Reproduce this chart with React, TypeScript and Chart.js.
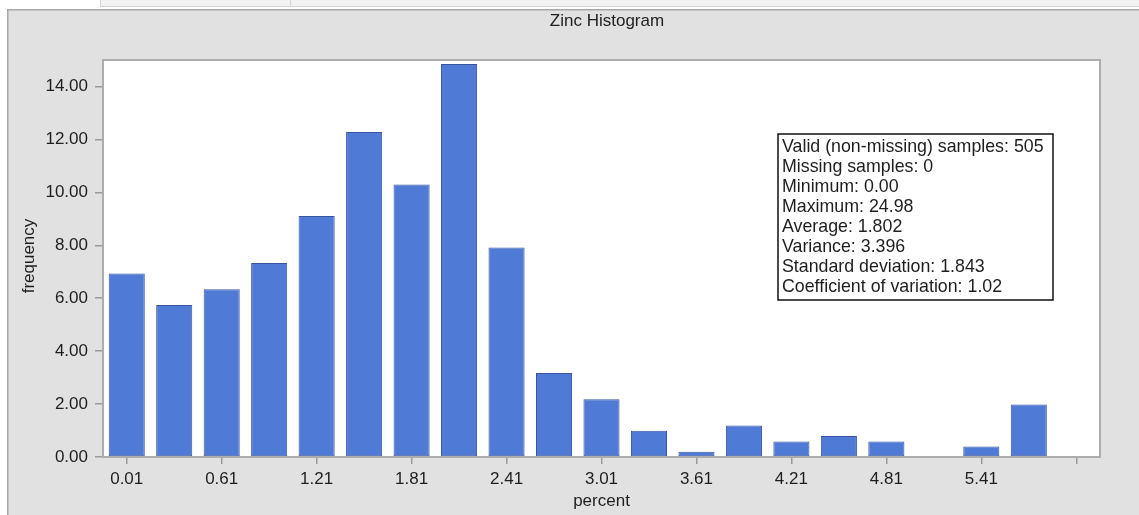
import React, { useEffect, useRef } from 'react';
import { Chart, registerables } from 'chart.js';

Chart.register(...registerables);

const chartTitle = 'Zinc Histogram';
const xTitle = 'percent';
const yTitle = 'frequency';

const binLabels = ['0.01', '0.31', '0.61', '0.91', '1.21', '1.51', '1.81', '2.11', '2.41', '2.71', '3.01', '3.31', '3.61', '3.91', '4.21', '4.51', '4.81', '5.11', '5.41', '5.71', '6.01'];
const frequency = [6.93, 5.74, 6.34, 7.33, 9.11, 12.28, 10.3, 14.85, 7.92, 3.17, 2.18, 0.99, 0.2, 1.19, 0.59, 0.79, 0.59, 0, 0.4, 1.98, 0];
const yTicks = [0, 2, 4, 6, 8, 10, 12, 14];
const statsLines = [
  'Valid (non-missing) samples: 505',
  'Missing samples: 0',
  'Minimum: 0.00',
  'Maximum: 24.98',
  'Average: 1.802',
  'Variance: 3.396',
  'Standard deviation: 1.843',
  'Coefficient of variation: 1.02',
];

const FONT = '"Liberation Sans", Arial, sans-serif';
const PANEL = '#e1e1e1';
const TEXT = '#1e1e1e';

const decor = {
  id: 'decor',
  beforeDraw(chart: any) {
    const { ctx, chartArea: a, width, height } = chart;
    ctx.save();
    ctx.fillStyle = '#ffffff';
    ctx.fillRect(0, 0, width, height);
    // top tab strip
    ctx.fillStyle = '#f2f2f2';
    ctx.fillRect(100, 0, width - 100, 6);
    ctx.strokeStyle = '#d4d4d4';
    ctx.lineWidth = 1;
    ctx.beginPath();
    ctx.moveTo(100.5, 0); ctx.lineTo(100.5, 6);
    ctx.moveTo(290.5, 0); ctx.lineTo(290.5, 6);
    ctx.moveTo(100, 6.5); ctx.lineTo(width, 6.5);
    ctx.stroke();
    // gray panel
    ctx.fillStyle = PANEL;
    ctx.fillRect(7, 9, width - 7, height - 9);
    ctx.strokeStyle = '#a8a8a8';
    ctx.lineWidth = 1.5;
    ctx.beginPath();
    ctx.moveTo(7.75, height); ctx.lineTo(7.75, 9.75); ctx.lineTo(width, 9.75);
    ctx.stroke();
    // plot background
    ctx.fillStyle = '#ffffff';
    ctx.fillRect(a.left, a.top, a.right - a.left, a.bottom - a.top);
    ctx.restore();
  },
  afterDatasetsDraw(chart: any) {
    const { ctx, chartArea: a } = chart;
    ctx.save();
    ctx.strokeStyle = '#adadad';
    ctx.lineWidth = 2;
    ctx.strokeRect(a.left, a.top, a.right - a.left, a.bottom - a.top);
    ctx.restore();
  },
  afterDraw(chart: any) {
    const { ctx, chartArea: a } = chart;
    ctx.save();
    ctx.fillStyle = TEXT;
    ctx.font = `17px ${FONT}`;
    ctx.textAlign = 'center';
    ctx.textBaseline = 'middle';
    ctx.fillText(chartTitle, 607, 21);
    ctx.fillText(xTitle, (a.left + a.right) / 2, 501);
    ctx.save();
    ctx.translate(29, 256);
    ctx.rotate(-Math.PI / 2);
    ctx.fillText(yTitle, 0, 0);
    ctx.restore();

    // statistics box
    const bx = 778, by = 134, bw = 275, bh = 166;
    ctx.fillStyle = '#ffffff';
    ctx.fillRect(bx, by, bw, bh);
    ctx.strokeStyle = '#111111';
    ctx.lineWidth = 1.5;
    ctx.strokeRect(bx, by, bw, bh);
    ctx.fillStyle = TEXT;
    ctx.font = `17.8px ${FONT}`;
    ctx.textAlign = 'left';
    ctx.textBaseline = 'alphabetic';
    statsLines.forEach((line, i) => {
      ctx.fillText(line, bx + 4, by + 18 + i * 20);
    });
    ctx.restore();
  },
};

export default function App() {
  const ref = useRef<HTMLCanvasElement | null>(null);

  useEffect(() => {
    if (!ref.current) return;
    const chart = new Chart(ref.current, {
      type: 'bar',
      data: {
        labels: binLabels,
        datasets: [
          {
            data: frequency,
            backgroundColor: '#4f7ad6',
            borderColor: '#36559e',
            borderWidth: 1,
            borderSkipped: false,
            categoryPercentage: 1,
            barPercentage: 0.76,
          },
        ],
      },
      options: {
        animation: false,
        responsive: false,
        maintainAspectRatio: false,
        layout: { padding: { left: 0, top: 60, right: 39, bottom: 0 } },
        plugins: {
          legend: { display: false },
          title: { display: false },
          tooltip: { enabled: false },
        },
        scales: {
          x: {
            type: 'category',
            offset: true,
            border: { display: false },
            grid: {
              display: true,
              drawOnChartArea: false,
              drawTicks: true,
              tickLength: 7,
              offset: false,
              lineWidth: 1.5,
              color: (c: any) => (c.index % 2 === 0 ? '#9a9a9a' : 'rgba(0,0,0,0)'),
            },
            ticks: {
              autoSkip: false,
              maxRotation: 0,
              minRotation: 0,
              padding: 5,
              color: TEXT,
              font: { family: FONT, size: 17 },
              callback: (_v: any, i: number) => (i % 2 === 0 && i < binLabels.length - 1 ? binLabels[i] : ''),
            },
            afterFit: (s: any) => {
              s.height = 58;
            },
          },
          y: {
            type: 'linear',
            min: 0,
            max: 15,
            border: { display: false },
            grid: {
              display: true,
              drawOnChartArea: false,
              drawTicks: true,
              tickLength: 8,
              lineWidth: 1.5,
              color: '#9a9a9a',
            },
            ticks: {
              padding: 7,
              color: TEXT,
              font: { family: FONT, size: 17 },
              callback: (v: any) => Number(v).toFixed(2),
            },
            afterBuildTicks: (s: any) => {
              s.ticks = yTicks.map((v) => ({ value: v }));
            },
            afterFit: (s: any) => {
              s.width = 103;
            },
          },
        },
      },
      plugins: [decor],
    });
    return () => chart.destroy();
  }, []);

  return (
    <div style={{ position: 'absolute', left: 0, top: 0, width: 1139, height: 515 }}>
      <canvas ref={ref} width={1139} height={515} style={{ display: 'block', width: 1139, height: 515 }} />
    </div>
  );
}
